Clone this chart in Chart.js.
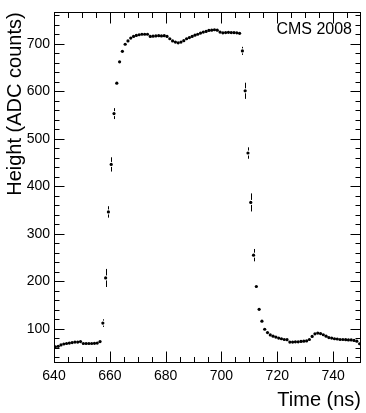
<!DOCTYPE html>
<html>
<head>
<meta charset="utf-8">
<script src="https://cdn.jsdelivr.net/npm/chart.js@4/dist/chart.umd.min.js"></script>
<style>
  body { margin: 0; background: #fff; }
  canvas { display: block; }
</style>
</head>
<body>
<canvas id="pulse" width="366" height="413"></canvas>
<script>
// bin centres (ns), 1 ns bins from 640 to 750
const binCenters = [
  640.5, 641.5, 642.5, 643.5, 644.5, 645.5, 646.5, 647.5, 648.5, 649.5,
  650.5, 651.5, 652.5, 653.5, 654.5, 655.5, 656.5, 657.5, 658.5, 659.5,
  660.5, 661.5, 662.5, 663.5, 664.5, 665.5, 666.5, 667.5, 668.5, 669.5,
  670.5, 671.5, 672.5, 673.5, 674.5, 675.5, 676.5, 677.5, 678.5, 679.5,
  680.5, 681.5, 682.5, 683.5, 684.5, 685.5, 686.5, 687.5, 688.5, 689.5,
  690.5, 691.5, 692.5, 693.5, 694.5, 695.5, 696.5, 697.5, 698.5, 699.5,
  700.5, 701.5, 702.5, 703.5, 704.5, 705.5, 706.5, 707.5, 708.5, 709.5,
  710.5, 711.5, 712.5, 713.5, 714.5, 715.5, 716.5, 717.5, 718.5, 719.5,
  720.5, 721.5, 722.5, 723.5, 724.5, 725.5, 726.5, 727.5, 728.5, 729.5,
  730.5, 731.5, 732.5, 733.5, 734.5, 735.5, 736.5, 737.5, 738.5, 739.5,
  740.5, 741.5, 742.5, 743.5, 744.5, 745.5, 746.5, 747.5, 748.5, 749.5
];

// pulse height (ADC counts)
const heights = [
  62, 63, 66, 68, 69, 70, 71, 72, 72, 73,
  69, 69, 69, 69, 69.5, 70, 73, 112, 207, 346,
  446, 553, 617, 662, 684, 699, 706, 712, 715.5, 717.5,
  719, 720, 720, 720, 715.5, 716, 716.5, 717, 716.5, 717,
  715.5, 710.5, 706, 703.5, 702, 703.5, 706.5, 710.5, 713, 715.5,
  718, 720, 722.5, 724.5, 726, 728, 728.5, 729.5, 728.5, 724.5,
  723, 723.5, 724, 723.5, 723.5, 723, 722, 685, 601, 470,
  366, 255, 189, 141, 116, 99, 92, 87, 84.5, 82.5,
  80.5, 79, 77.5, 77, 72, 72, 72.5, 72.5, 73.5, 74,
  74.5, 77.5, 84, 89.5, 91, 90, 87.5, 84.5, 81.5, 80.5,
  79, 78.5, 77.5, 77.5, 77, 76.5, 76.5, 75.5, 74, 68.5
];

// statistical error on each bin
const errors = [
  1, 1, 1, 1, 1, 1, 1, 1, 1, 1,
  1, 1, 1, 1, 1, 1, 1, 8, 19, 12,
  15, 11.5, 3, 2, 1, 1, 1, 1, 1, 1,
  1, 1, 1, 1, 1, 1, 1, 1, 1, 1,
  1, 1, 1, 1, 1, 1, 1, 1, 1, 1,
  1, 1, 1, 1, 1, 1, 1, 1, 1, 1,
  1, 1, 1, 1, 1, 1, 1, 8.5, 17, 12,
  19, 13, 3, 2, 1, 1, 1, 1, 1, 1,
  1, 1, 1, 1, 1, 1, 1, 1, 1, 1,
  1, 1, 1, 1, 1, 1, 1, 1, 1, 1,
  1, 1, 1, 1, 1, 1, 1, 1, 1, 1
];

const xMajorTicks = [640, 660, 680, 700, 720, 740];
const yMajorTicks = [100, 200, 300, 400, 500, 600, 700];

const FONT = "'Liberation Sans', Arial, Helvetica, sans-serif";

// ROOT style frame: inner ticks on all four sides, error bars, label
const rootFrame = {
  id: "rootFrame",
  afterDatasetsDraw(chart) {
    const { ctx, scales: { x, y } } = chart;
    ctx.save();
    ctx.strokeStyle = "#000";
    ctx.lineWidth = 1;
    ctx.beginPath();
    binCenters.forEach((t, i) => {
      const px = Math.round(x.getPixelForValue(t)) + 0.5;
      const py = y.getPixelForValue(heights[i]);
      const hi = y.getPixelForValue(heights[i] + errors[i]);
      const lo = y.getPixelForValue(heights[i] - errors[i]);
      const gap = 2.5;
      if (py - hi > gap) {
        ctx.moveTo(px, hi);
        ctx.lineTo(px, py - gap);
        ctx.moveTo(px, py + gap);
        ctx.lineTo(px, lo);
      }
    });
    ctx.stroke();
    ctx.restore();
  },
  afterDraw(chart) {
    const { ctx, chartArea: a, scales: { x, y } } = chart;
    const l = Math.round(a.left) + 0.5;
    const r = Math.round(a.right) - 0.5;
    const t = Math.round(a.top) + 0.5;
    const b = Math.round(a.bottom) - 0.5;
    ctx.save();
    ctx.strokeStyle = "#000";
    ctx.lineWidth = 1;
    ctx.strokeRect(l, t, r - l, b - t);
    ctx.beginPath();
    for (let v = 645; v < 750; v += 5) {
      const px = Math.round(x.getPixelForValue(v)) + 0.5;
      const len = xMajorTicks.includes(v) ? 11 : 5.5;
      ctx.moveTo(px, b);
      ctx.lineTo(px, b - len);
      ctx.moveTo(px, t);
      ctx.lineTo(px, t + len);
    }
    for (let v = 40; v <= 760; v += 20) {
      const py = Math.round(y.getPixelForValue(v)) + 0.5;
      const len = yMajorTicks.includes(v) ? 10 : 5;
      ctx.moveTo(l, py);
      ctx.lineTo(l + len, py);
      ctx.moveTo(r, py);
      ctx.lineTo(r - len, py);
    }
    ctx.stroke();

    ctx.fillStyle = "#000";
    ctx.font = "16px " + FONT;
    ctx.textAlign = "right";
    ctx.textBaseline = "middle";
    ctx.fillText("CMS 2008", 352, 30);
    ctx.restore();
  },
};

const points = binCenters.map((t, i) => ({ x: t, y: heights[i] }));

new Chart(document.getElementById("pulse").getContext("2d"), {
  type: "scatter",
  data: {
    datasets: [
      {
        data: points,
        backgroundColor: "#000",
        borderWidth: 0,
        pointRadius: 1.6,
      },
    ],
  },
  options: {
    responsive: false,
    animation: false,
    layout: { padding: { top: 10, right: 5, left: 0, bottom: 0 } },
    plugins: {
      legend: { display: false },
      tooltip: { enabled: false },
    },
    scales: {
      x: {
        type: "linear",
        min: 640,
        max: 750,
        grid: { display: false, drawTicks: false },
        border: { display: false },
        afterBuildTicks: (scale) => {
          scale.ticks = xMajorTicks.map((v) => ({ value: v }));
        },
        ticks: {
          autoSkip: false,
          maxRotation: 0,
          padding: 5,
          color: "#000",
          font: { family: FONT, size: 14 },
        },
        title: {
          display: true,
          text: "Time (ns)",
          align: "end",
          color: "#000",
          font: { family: FONT, size: 20 },
          padding: { top: 4, bottom: 1 },
        },
        afterFit: (scale) => {
          scale.height = 50;
        },
      },
      y: {
        min: 28,
        max: 766,
        grid: { display: false, drawTicks: false },
        border: { display: false },
        afterBuildTicks: (scale) => {
          scale.ticks = yMajorTicks.map((v) => ({ value: v }));
        },
        ticks: {
          autoSkip: false,
          padding: 4,
          color: "#000",
          font: { family: FONT, size: 14 },
        },
        title: {
          display: true,
          text: "Height (ADC counts)",
          align: "end",
          color: "#000",
          font: { family: FONT, size: 20 },
          padding: { top: 3, bottom: 2 },
        },
        afterFit: (scale) => {
          scale.width = 54;
        },
      },
    },
  },
  plugins: [rootFrame],
});
</script>
</body>
</html>
